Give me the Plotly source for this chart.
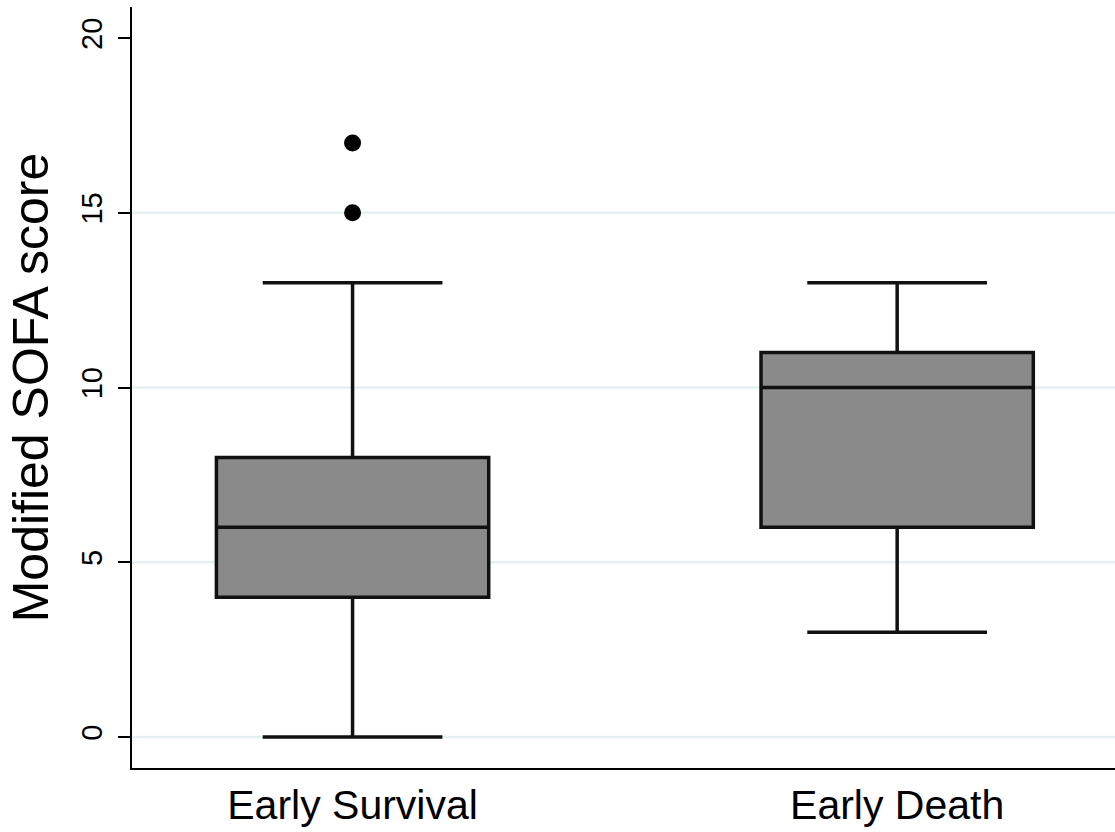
import plotly.graph_objects as go

categories = ["Early Survival", "Early Death"]
q1_vals = [4, 6]
median_vals = [6, 10]
q3_vals = [8, 11]
lower_whisker = [0, 3]
upper_whisker = [13, 13]
outlier_x = ["Early Survival", "Early Survival"]
outlier_y = [15, 17]
y_tick_vals = [0, 5, 10, 15, 20]
grid_vals = [0, 5, 10, 15]

FONT = "Arial, Liberation Sans, sans-serif"

fig = go.Figure()

for i, c in enumerate(categories):
    fig.add_trace(go.Box(
        x=[c], q1=[q1_vals[i]], median=[median_vals[i]], q3=[q3_vals[i]],
        lowerfence=[lower_whisker[i]], upperfence=[upper_whisker[i]],
        fillcolor="#8a8a8a", line=dict(color="#111111", width=3.5),
        width=0.5, whiskerwidth=0.66, boxpoints=False, showlegend=False,
        hoverinfo="skip",
    ))

fig.add_trace(go.Scatter(
    x=outlier_x, y=outlier_y, mode="markers",
    marker=dict(color="black", size=17), showlegend=False,
))

for g in grid_vals:
    fig.add_shape(type="line", xref="paper", x0=0, x1=1, yref="y", y0=g, y1=g,
                  line=dict(color="#e6eff2", width=2.5), layer="below")

fig.update_layout(
    width=1115, height=832,
    margin=dict(l=132, r=0, t=7, b=64),
    paper_bgcolor="white", plot_bgcolor="white",
    font=dict(family=FONT, color="black"),
    xaxis=dict(
        type="category", categoryorder="array", categoryarray=categories,
        range=[-0.405, 1.40], showgrid=False, zeroline=False,
        showline=True, linecolor="black", linewidth=2,
        ticks="", tickfont=dict(size=41, family=FONT, color="black"),
    ),
    yaxis=dict(
        range=[-0.887, 20.89], tickvals=y_tick_vals, showgrid=False, zeroline=False,
        showline=True, linecolor="black", linewidth=2,
        ticks="outside", ticklen=12, tickwidth=2, tickcolor="black",
        tickangle=-90, tickfont=dict(size=29, family=FONT, color="black"),
        ticklabelstandoff=4,
        title=dict(text="Modified SOFA score", font=dict(size=50, family=FONT, color="black"),
                   standoff=12),
    ),
)

fig.write_html("out.html")
